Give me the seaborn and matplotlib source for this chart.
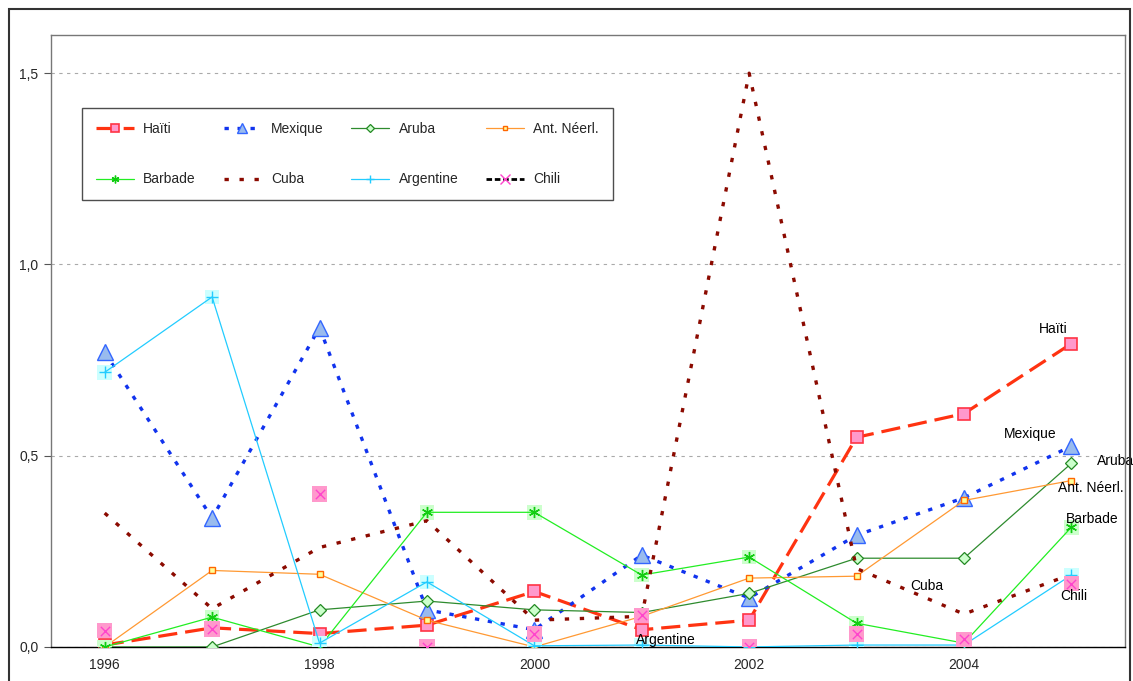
import numpy as np
import pandas as pd
import seaborn as sns
import matplotlib
matplotlib.use("Agg")
import matplotlib.pyplot as plt
from matplotlib.lines import Line2D
from matplotlib.patches import Rectangle

# values
years = ["1996", "1997", "1998", "1999", "2000", "2001", "2002", "2003", "2004", "2005"]
haiti = [0.005, 0.05, 0.035, 0.057, 0.145, 0.045, 0.07, 0.548, 0.61, 0.793]
mexique = [0.77, 0.337, 0.835, 0.097, 0.045, 0.24, 0.128, 0.292, 0.39, 0.525]
aruba = [0.0, 0.0, 0.097, 0.12, 0.097, 0.09, 0.14, 0.232, 0.232, 0.48]
ant_neerl = [0.0, 0.2, 0.19, 0.07, 0.0, 0.08, 0.18, 0.185, 0.383, 0.435]
barbade = [0.0, 0.078, 0.0, 0.352, 0.352, 0.188, 0.235, 0.062, 0.01, 0.313]
cuba = [0.35, 0.1, 0.26, 0.33, 0.07, 0.08, 1.5, 0.205, 0.086, 0.19]
argentine = [0.718, 0.915, 0.01, 0.17, 0.003, 0.005, 0.0, 0.005, 0.005, 0.188]
chili = [0.042, 0.047, 0.4, 0.0, 0.034, 0.083, 0.0, 0.034, 0.02, 0.165]

sns.set_style("white")
plt.rcParams['font.family'] = ['Liberation Sans', 'DejaVu Sans']

fig = plt.figure(figsize=(11.33, 6.81), dpi=100)
ax = fig.add_axes([0.045, 0.05, 0.948, 0.8987])
x = np.arange(len(years))

series = [
    ("Haïti", haiti, dict(color="#ff3311", lw=2.3, ls=(0, (6, 2.5)), marker="s", ms=8,
                          mfc="#ff99cc", mec="#ff3344", mew=1.2), None),
    ("Mexique", mexique, dict(color="#1133ee", lw=2.4, ls=(0, (1.3, 2.6)), marker="^", ms=11,
                              mfc="#99bbee", mec="#3366ff", mew=1.0), None),
    ("Aruba", aruba, dict(color="#2e8b2e", lw=0.9, ls="-", marker="D", ms=6,
                          mfc="#ccffcc", mec="#228822", mew=0.9), None),
    ("Ant. Néerl.", ant_neerl, dict(color="#ff9933", lw=0.9, ls="-", marker="s", ms=5,
                                    mfc="#ffff99", mec="#ff6600", mew=1.0), None),
    ("Barbade", barbade, dict(color="#22ee22", lw=0.9, ls="-", marker=(6, 2, 0), ms=8,
                              mfc="none", mec="#11cc11", mew=1.0), "#ccffcc"),
    ("Cuba", cuba, dict(color="#8b0a00", lw=2.4, ls=(0, (1.3, 3.2)), marker=None), None),
    ("Argentine", argentine, dict(color="#22ccff", lw=0.9, ls="-", marker="+", ms=9,
                                  mfc="none", mec="#22ccff", mew=1.0), "#ccffff"),
]

z = 3
handles = []
for name, vals, st, bg in series:
    if bg is not None:
        sns.scatterplot(x=x, y=vals, marker="s", s=110, color=bg, edgecolor="none",
                        ax=ax, zorder=z, legend=False)
    sns.lineplot(x=x, y=vals, ax=ax, color=st["color"], linewidth=st["lw"],
                 linestyle=st["ls"], marker=st.get("marker"), markersize=st.get("ms", 0),
                 markerfacecolor=st.get("mfc"), markeredgecolor=st.get("mec"),
                 markeredgewidth=st.get("mew", 1), zorder=z + 1, legend=False)
    handles.append(Line2D([], [], color=st["color"], lw=st["lw"], ls=st["ls"],
                          marker=st.get("marker"), ms=st.get("ms", 0) * 0.7,
                          mfc=st.get("mfc"), mec=st.get("mec"), mew=st.get("mew", 1)))
    z += 2

# Chili: markers only
sns.scatterplot(x=x, y=chili, marker="s", s=120, color="#ff99cc", edgecolor="none",
                ax=ax, zorder=z, legend=False)
sns.scatterplot(x=x, y=chili, marker="x", s=45, color="#ff44cc", linewidth=1.0,
                ax=ax, zorder=z + 1, legend=False)
handles.append(Line2D([], [], color="black", lw=2, ls=(0, (2, 1)), marker="x", ms=7,
                      mec="#ff44cc", mew=1.0))

names = ["Haïti", "Mexique", "Aruba", "Ant. Néerl.", "Barbade", "Cuba", "Argentine", "Chili"]
# legend fills column by column: reorder so it reads row by row
order = [0, 4, 1, 5, 2, 6, 3, 7]
leg = ax.legend([handles[i] for i in order], [names[i] for i in order],
                ncol=4, loc="upper left", bbox_to_anchor=(0.029, 0.881),
                borderaxespad=0, frameon=True, fancybox=False, fontsize=10,
                handlelength=2.7, handletextpad=0.7, columnspacing=2.0,
                labelspacing=2.65, borderpad=1.0)
leg.get_frame().set_edgecolor("#222222")
leg.get_frame().set_linewidth(1.0)
leg.set_zorder(30)

# end-of-line labels
labels = [("Haïti", 8.83, 0.83), ("Mexique", 8.62, 0.556), ("Aruba", 9.41, 0.485),
          ("Ant. Néerl.", 9.18, 0.415), ("Barbade", 9.19, 0.334), ("Chili", 9.02, 0.133),
          ("Cuba", 7.65, 0.16), ("Argentine", 5.22, 0.018)]
for txt, lx, ly in labels:
    ax.text(lx, ly, txt, ha="center", va="center", fontsize=10, color="black", zorder=40)

ax.set_xlim(-0.5, len(years) - 0.5)
ax.set_ylim(0, 1.6)
ax.set_yticks([0, 0.5, 1.0, 1.5])
ax.set_yticklabels(["0,0", "0,5", "1,0", "1,5"], fontsize=10)
ax.yaxis.grid(True, color="#aaaaaa", linestyle=(0, (3, 4)), linewidth=0.8)
ax.xaxis.grid(False)

ax.set_xticks(np.arange(-0.5, len(years), 1))
ax.set_xticklabels([])
ax.set_xticks(x[::2], minor=True)
ax.set_xticklabels(years[::2], minor=True, fontsize=10)
ax.tick_params(axis="x", which="major", direction="in", length=5, width=0.8, color="black")
ax.tick_params(axis="x", which="minor", length=0, pad=8)
ax.tick_params(axis="y", direction="out", length=5, width=0.8, color="#555555", pad=4, left=True)
ax.set_xlabel("")
ax.set_ylabel("")

for side in ["left", "top", "right"]:
    ax.spines[side].set_color("#777777")
    ax.spines[side].set_linewidth(1.0)
ax.spines["bottom"].set_color("black")
ax.spines["bottom"].set_linewidth(1.0)

fig.patches.append(Rectangle((9 / 1133, -0.02), 1121 / 1133, 1 - 9 / 681 + 0.02,
                             transform=fig.transFigure, fill=False,
                             edgecolor="#333333", linewidth=1.5))

fig.savefig("out.png", dpi=100)
